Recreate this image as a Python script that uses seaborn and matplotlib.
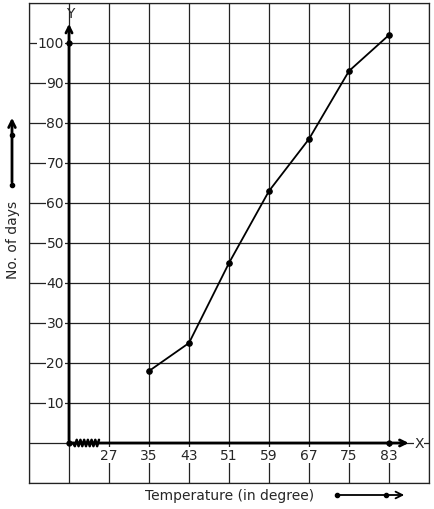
import matplotlib
matplotlib.use("Agg")
import matplotlib.pyplot as plt
import seaborn as sns
import pandas as pd
import numpy as np

# data
temperature = [35, 43, 51, 59, 67, 75, 83]
days = [18, 25, 45, 63, 76, 93, 102]
x_ticks = [27, 35, 43, 51, 59, 67, 75, 83]
y_ticks = [10, 20, 30, 40, 50, 60, 70, 80, 90, 100]

df = pd.DataFrame({'temp': temperature, 'days': days})

sns.set_style('white')
plt.rcParams['font.family'] = ['DejaVu Sans']

fig = plt.figure(figsize=(4.34, 5.10), dpi=100)
ax = fig.add_axes([29 / 434, 26 / 510, 400 / 434, 480 / 510])
ax.set_xlim(11, 91)
ax.set_ylim(-10, 110)

# grid
for gx in np.arange(11, 92, 8):
    ax.axvline(gx, color='#222222', lw=0.9, zorder=1)
for gy in np.arange(-10, 111, 10):
    ax.axhline(gy, color='#222222', lw=0.9, zorder=1)
for s in ax.spines.values():
    s.set_color('#222222')
    s.set_linewidth(0.9)
ax.set_xticks([])
ax.set_yticks([])

# axes with arrows
ax.annotate('', xy=(19, 105.5), xytext=(19, 0),
            arrowprops=dict(arrowstyle='->', lw=2, color='black', mutation_scale=11), zorder=4)
ax.annotate('', xy=(87.5, 0), xytext=(19, 0),
            arrowprops=dict(arrowstyle='->', lw=2, color='black', mutation_scale=11), zorder=4)
ax.text(19.3, 107.6, 'Y', ha='center', va='center', fontsize=10, zorder=7, clip_on=False)
ax.text(89, 0, 'X', ha='center', va='center', fontsize=10, zorder=5,
        bbox=dict(facecolor='white', edgecolor='none', pad=0.5))

# zigzag break on x axis
zx = np.linspace(19.8, 25.0, 15)
zy = np.tile([0.8, -0.8], 8)[:15]
zy[0] = 0
ax.plot(zx, zy, color='black', lw=1.8, zorder=4)

# special points
ax.plot([19, 19, 83], [0, 100, 0], 'o', color='black', ms=3.5, zorder=5)

# tick labels
for t in y_ticks:
    ax.text(19 - 1.0, t, str(t), ha='right', va='center', fontsize=10, zorder=5,
            bbox=dict(facecolor='white', edgecolor='none', pad=0.5))
for t in x_ticks:
    ax.text(t, -3, str(t), ha='center', va='center', fontsize=10, zorder=5,
            bbox=dict(facecolor='white', edgecolor='none', pad=0.5))

# data line
sns.lineplot(data=df, x='temp', y='days', color='black', lw=1.3,
             marker='o', markersize=4, markeredgecolor='black', ax=ax, zorder=6)
ax.set_xlabel('')
ax.set_ylabel('')

# outside labels and arrows
fig.text(230 / 434, 1 - 496 / 510, 'Temperature (in degree)', ha='center', va='center', fontsize=10)
fig.text(13 / 434, 1 - 240 / 510, 'No. of days', ha='center', va='center', fontsize=10, rotation=90)

fig.patches.append(matplotlib.patches.FancyArrowPatch(
    (337 / 434, 1 - 496 / 510), (407 / 434, 1 - 496 / 510), transform=fig.transFigure,
    arrowstyle='->', mutation_scale=12, lw=1.3, color='black'))
fig.lines.append(matplotlib.lines.Line2D([337 / 434, 386 / 434], [1 - 496 / 510] * 2,
    transform=fig.transFigure, marker='o', ms=3, lw=0, color='black'))
fig.patches.append(matplotlib.patches.FancyArrowPatch(
    (12 / 434, 1 - 186 / 510), (12 / 434, 1 - 116 / 510), transform=fig.transFigure,
    arrowstyle='->', mutation_scale=12, lw=2, color='black'))
fig.lines.append(matplotlib.lines.Line2D([12 / 434] * 2, [1 - 186 / 510, 1 - 136 / 510],
    transform=fig.transFigure, marker='o', ms=3, lw=0, color='black'))

fig.savefig('out.png', dpi=100)
